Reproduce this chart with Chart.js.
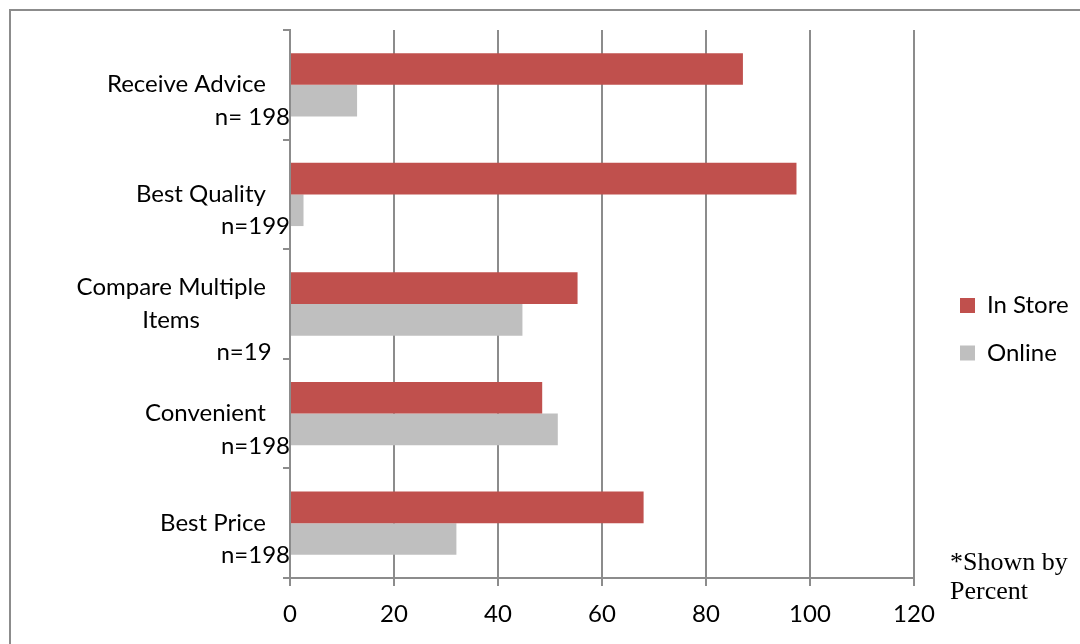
<!DOCTYPE html>
<html>
<head>
<meta charset="utf-8">
<title>In Store vs Online</title>
<script src="https://cdn.jsdelivr.net/npm/chart.js@4/dist/chart.umd.min.js"></script>
<style>
  html, body { margin: 0; padding: 0; background: #ffffff; }
  #wrap { position: relative; width: 1080px; height: 644px; overflow: hidden; }
  #frame {
    position: absolute; left: 9px; top: 9px; width: 1200px; height: 800px;
    border-left: 2px solid #8c8c8c; border-top: 2px solid #8c8c8c;
  }
  #c { position: absolute; left: 0; top: 0; }
  #note {
    position: absolute; left: 950px; top: 547px;
    font-family: "Liberation Serif", "Times New Roman", serif;
    font-size: 26px; line-height: 29px; color: #000;
  }
</style>
</head>
<body>
<div id="wrap">
  <div id="frame"></div>
  <canvas id="c" width="1080" height="644"></canvas>
  <div id="note">*Shown by<br>Percent</div>
</div>
<script>
// Category labels (multi-line; trailing spaces keep the first line clear of the axis)
const categories = [
  ["Receive Advice\u2003 ", "n= 198"],
  ["Best Quality\u2003 ", "n=199"],
  ["Compare Multiple\u2003 ", "Items\u2003\u2003\u2003\u2003\u2003", "n=19   "],
  ["Convenient\u2003 ", "n=198"],
  ["Best Price\u2003 ", "n=198"]
];

// Share of respondents (%)
const inStore = [87.1, 97.4, 55.3, 48.5, 68.0];
const online  = [12.9, 2.6, 44.7, 51.5, 32.0];

const seriesNames = ["In Store", "Online"];
const seriesColors = ["#C0504D", "#BFBFBF"];

// Value axis ticks
const xTicks = [0, 20, 40, 60, 80, 100, 120];

const gridColor = "#8c8c8c";
const fontFamily = "Lato, 'Open Sans', sans-serif";

// Place the legend to the right of the plot, independent of the plot's own box
const legendPlacer = {
  id: "legendPlacer",
  afterLayout(chart) {
    const lg = chart.legend;
    if (!lg) return;
    const w = lg.width, h = lg.height;
    lg.left = 936.5; lg.right = 936.5 + w;
    lg.top = 270; lg.bottom = 270 + Math.max(h, 200);
  }
};

new Chart(document.getElementById("c"), {
  type: "bar",
  data: {
    labels: categories,
    datasets: [
      { label: seriesNames[0], data: inStore, backgroundColor: seriesColors[0], borderWidth: 0 },
      { label: seriesNames[1], data: online, backgroundColor: seriesColors[1], borderWidth: 0 }
    ]
  },
  plugins: [legendPlacer],
  options: {
    indexAxis: "y",
    responsive: false,
    animation: false,
    devicePixelRatio: 1,
    layout: { padding: { left: 0, top: 30, right: 166, bottom: 0 } },
    datasets: { bar: { categoryPercentage: 0.578, barPercentage: 1.0 } },
    plugins: {
      tooltip: { enabled: false },
      legend: {
        position: "chartArea",
        align: "start",
        labels: {
          boxWidth: 15,
          boxHeight: 15,
          padding: 23.5,
          color: "#000",
          font: { family: fontFamily, size: 24 }
        }
      }
    },
    scales: {
      x: {
        min: 0,
        max: 120,
        afterBuildTicks(scale) { scale.ticks = xTicks.map(v => ({ value: v })); },
        afterFit(scale) { scale.height = 66; },
        grid: {
          color: gridColor, lineWidth: 2, drawTicks: true, tickLength: 8, tickColor: gridColor
        },
        border: { display: true, color: gridColor, width: 2 },
        ticks: {
          color: "#000",
          padding: 14,
          font: { family: fontFamily, size: 24 }
        }
      },
      y: {
        afterFit(scale) { scale.width = 290; },
        grid: {
          offset: true, drawOnChartArea: false, drawTicks: true, tickLength: 7,
          color: gridColor, lineWidth: 2
        },
        border: { display: true, color: gridColor, width: 2 },
        ticks: {
          color: "#000",
          padding: -7,
          labelOffset: 16,
          autoSkip: false,
          font: { family: fontFamily, size: 24, lineHeight: 1.36 }
        }
      }
    }
  }
});
</script>
</body>
</html>
